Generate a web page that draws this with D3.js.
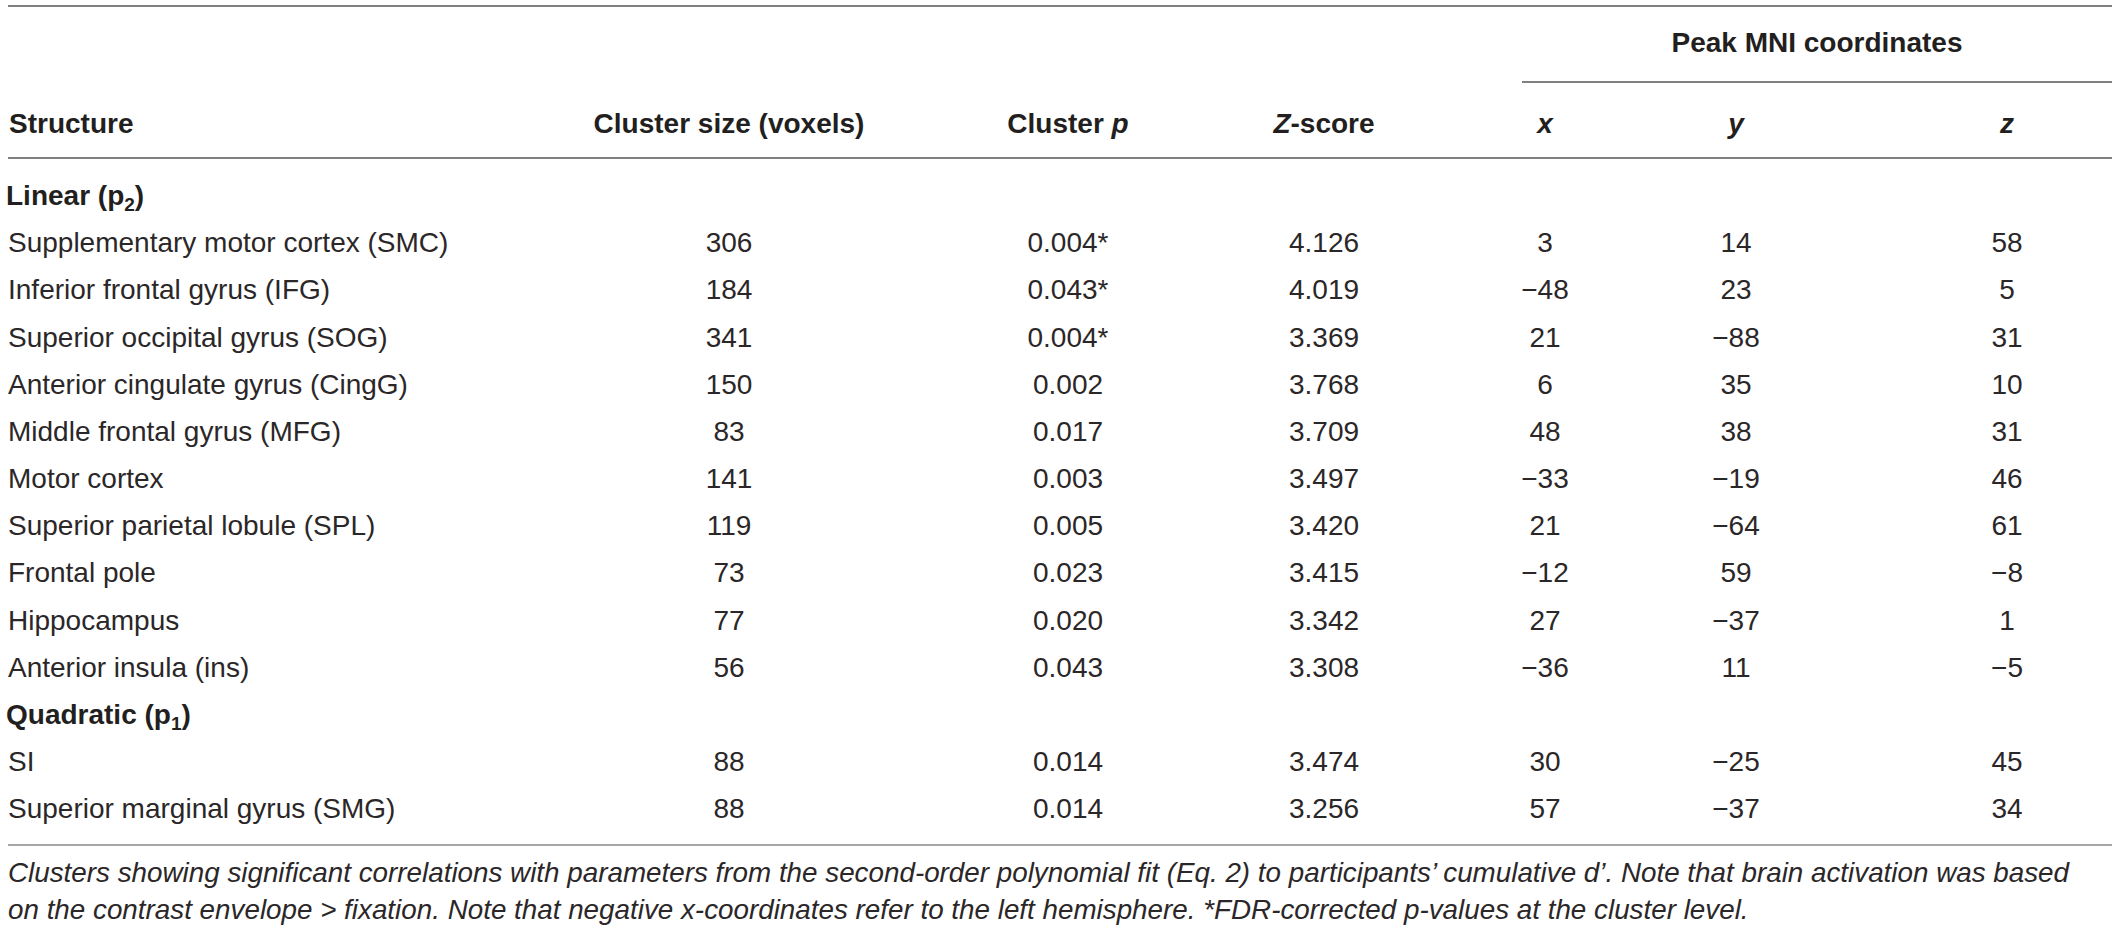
<!DOCTYPE html>
<html>
<head>
<meta charset="utf-8">
<script src="https://cdn.jsdelivr.net/npm/d3@7"></script>
<style>
  html, body { margin: 0; padding: 0; background: #fff; }
  svg { display: block; }
</style>
</head>
<body>
<div id="table"></div>
<script>
// table values
const structures = [
  "Supplementary motor cortex (SMC)",
  "Inferior frontal gyrus (IFG)",
  "Superior occipital gyrus (SOG)",
  "Anterior cingulate gyrus (CingG)",
  "Middle frontal gyrus (MFG)",
  "Motor cortex",
  "Superior parietal lobule (SPL)",
  "Frontal pole",
  "Hippocampus",
  "Anterior insula (ins)",
  "SI",
  "Superior marginal gyrus (SMG)"
];
const groupOf = ["Linear", "Linear", "Linear", "Linear", "Linear", "Linear", "Linear", "Linear", "Linear", "Linear", "Quadratic", "Quadratic"];
const groups = [["Linear", "2"], ["Quadratic", "1"]];
const clusterSize = [306, 184, 341, 150, 83, 141, 119, 73, 77, 56, 88, 88];
const clusterP = [0.004, 0.043, 0.004, 0.002, 0.017, 0.003, 0.005, 0.023, 0.020, 0.043, 0.014, 0.014];
const fdr = [true, true, true, false, false, false, false, false, false, false, false, false];
const zScore = [4.126, 4.019, 3.369, 3.768, 3.709, 3.497, 3.420, 3.415, 3.342, 3.308, 3.474, 3.256];
const peakX = [3, -48, 21, 6, 48, -33, 21, -12, 27, -36, 30, 57];
const peakY = [14, 23, -88, 35, 38, -19, -64, 59, -37, 11, -25, -37];
const peakZ = [58, 5, 31, 10, 31, 46, 61, -8, 1, -5, 45, 34];
const captionLines = [
  "Clusters showing significant correlations with parameters from the second-order polynomial fit (Eq. 2) to participants\u2019 cumulative d\u2019. Note that brain activation was based",
  "on the contrast envelope > fixation. Note that negative x-coordinates refer to the left hemisphere. *FDR-corrected p-values at the cluster level."
];

const width = 2120, height = 931;
const font = "'Liberation Sans', Arial, Helvetica, sans-serif";
const ink = "#231f20";

const svg = d3.select("#table").append("svg")
  .attr("width", width)
  .attr("height", height)
  .style("font-family", font);

// columns
const columns = ["size", "p", "z", "x", "y", "zc"];
const xCol = d3.scaleOrdinal()
  .domain(columns)
  .range([729, 1068, 1324, 1545, 1736, 2007]);
const left = 8, right = 2112;

// build the list of body rows: group header, then its members
const rows = [];
groups.forEach(function (g) {
  rows.push({ type: "group", label: g[0], sub: g[1] });
  structures.forEach(function (s, i) {
    if (groupOf[i] === g[0]) rows.push({ type: "data", i: i });
  });
});

const yRow = d3.scaleLinear()
  .domain([0, rows.length - 1])
  .range([205, 818.4]);

const f3 = d3.format(".3f");
const fInt = d3.format("d");

// rules
function rule(x1, x2, y, color) {
  svg.append("line")
    .attr("x1", x1).attr("x2", x2)
    .attr("y1", y).attr("y2", y)
    .attr("stroke", color)
    .attr("stroke-width", 2);
}
rule(left, right, 6, "#808080");
rule(1522, right, 82, "#808080");
rule(left, right, 158, "#808080");
rule(left, right, 845, "#a6a6a6");

// header
const head = svg.append("g")
  .style("font-weight", "bold")
  .style("font-size", "28px")
  .attr("fill", ink);

head.append("text")
  .attr("x", (1522 + right) / 2)
  .attr("y", 52)
  .attr("text-anchor", "middle")
  .text("Peak MNI coordinates");

head.append("text")
  .attr("x", left + 1)
  .attr("y", 133)
  .text("Structure");

head.append("text")
  .attr("x", xCol("size"))
  .attr("y", 133)
  .attr("text-anchor", "middle")
  .text("Cluster size (voxels)");

const hp = head.append("text")
  .attr("x", xCol("p"))
  .attr("y", 133)
  .attr("text-anchor", "middle");
hp.append("tspan").text("Cluster ");
hp.append("tspan").style("font-style", "italic").text("p");

const hz = head.append("text")
  .attr("x", xCol("z"))
  .attr("y", 133)
  .attr("text-anchor", "middle");
hz.append("tspan").style("font-style", "italic").text("Z");
hz.append("tspan").text("-score");

[["x", "x"], ["y", "y"], ["zc", "z"]].forEach(function (c) {
  head.append("text")
    .attr("x", xCol(c[0]))
    .attr("y", 133)
    .attr("text-anchor", "middle")
    .style("font-style", "italic")
    .text(c[1]);
});

// body
const body = svg.append("g")
  .style("font-size", "28px")
  .attr("fill", "#2b2728");

rows.forEach(function (r, k) {
  const y = yRow(k);
  if (r.type === "group") {
    const t = body.append("text")
      .attr("x", left - 2)
      .attr("y", y)
      .attr("fill", ink)
      .style("font-weight", "bold");
    t.append("tspan").text(r.label + " (p");
    t.append("tspan")
      .attr("dy", 6)
      .style("font-size", "19px")
      .text(r.sub);
    t.append("tspan")
      .attr("dy", -6)
      .text(")");
    return;
  }
  const i = r.i;
  body.append("text")
    .attr("x", left)
    .attr("y", y)
    .text(structures[i]);

  const cells = [
    ["size", fInt(clusterSize[i])],
    ["p", f3(clusterP[i]) + (fdr[i] ? "*" : "")],
    ["z", f3(zScore[i])],
    ["x", fInt(peakX[i])],
    ["y", fInt(peakY[i])],
    ["zc", fInt(peakZ[i])]
  ];
  cells.forEach(function (c) {
    body.append("text")
      .attr("x", xCol(c[0]))
      .attr("y", y)
      .attr("text-anchor", "middle")
      .text(c[1]);
  });
});

// caption
svg.append("g")
  .style("font-size", "27.8px")
  .style("font-style", "italic")
  .attr("fill", "#2b2728")
  .selectAll("text")
  .data(captionLines)
  .join("text")
  .attr("x", left)
  .attr("y", function (d, i) { return 882 + i * 37; })
  .text(function (d) { return d; });
</script>
</body>
</html>
